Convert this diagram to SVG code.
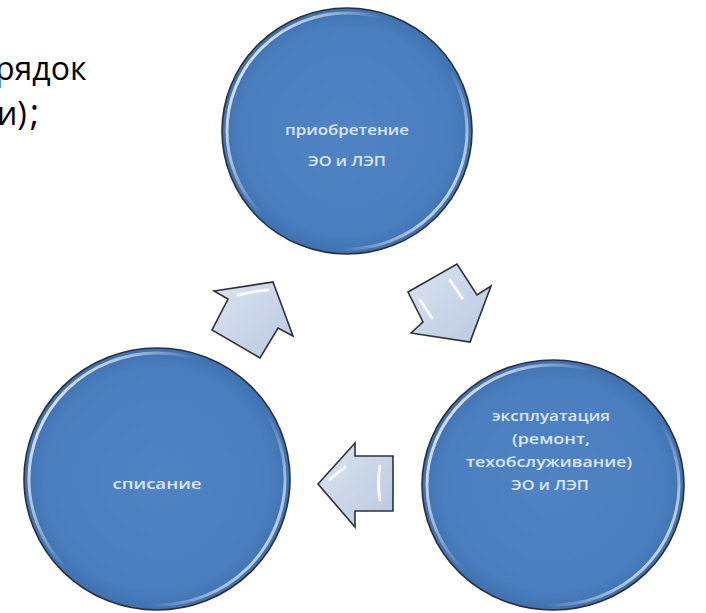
<svg xmlns="http://www.w3.org/2000/svg" width="706" height="613" viewBox="0 0 706 613">
  <defs>
    <radialGradient id="ball" cx="0.5" cy="0.5" r="0.5">
      <stop offset="0" stop-color="#4f83c3"/>
      <stop offset="0.85" stop-color="#4a7ebe"/>
      <stop offset="1" stop-color="#3f71b0"/>
    </radialGradient>
    <linearGradient id="rim" x1="0" y1="0.2" x2="1" y2="0.8">
      <stop offset="0" stop-color="#ffffff" stop-opacity="0.9"/>
      <stop offset="0.22" stop-color="#ffffff" stop-opacity="0.5"/>
      <stop offset="0.4" stop-color="#ffffff" stop-opacity="0"/>
      <stop offset="0.7" stop-color="#ffffff" stop-opacity="0"/>
      <stop offset="0.9" stop-color="#ffffff" stop-opacity="0.6"/>
      <stop offset="1" stop-color="#ffffff" stop-opacity="0.8"/>
    </linearGradient>
    <linearGradient id="arrowFill" x1="0" y1="0" x2="1" y2="1">
      <stop offset="0" stop-color="#dbe3f0"/>
      <stop offset="1" stop-color="#b9c9e1"/>
    </linearGradient>
  </defs>
  <style>
    .ball { fill: url(#ball); stroke: #2b2f36; stroke-width: 1.6; }
    .rim { fill: none; stroke: url(#rim); stroke-width: 3; }
    .lbl { font-family: "Open Sans", "DejaVu Sans", sans-serif; font-size: 13.5px; font-weight: 600; fill: #dce7f5; text-anchor: middle; }
    .arrow { fill: url(#arrowFill); stroke: #2e3036; stroke-width: 1.6; stroke-linejoin: miter; }
    .hl { stroke: #ffffff; stroke-width: 3; stroke-linecap: round; opacity: 0.85; fill: none; }
    .doc { font-family: "Open Sans", "Liberation Sans", sans-serif; font-size: 32px; fill: #000000; }
  </style>
  <rect width="706" height="613" fill="#ffffff"/>
  <text class="doc" x="-5" y="80">рядок</text>
  <text class="doc" x="-3" y="125">и)<tspan dx="3" font-size="36">;</tspan></text>

  <g id="connectors">
    <polygon class="arrow" points="214,291 273,282 293,336 278,328 260,358 212,330 228,299"/>
    <path class="hl" d="M238,295 Q255,291 268,290"/>
    <polygon class="arrow" points="408,292 457,264 477,295 491,286 470,342 411,333 423,322"/>
    <path class="hl" d="M420,300 L432,318"/>
    <path class="hl" d="M450,280 L462,298"/>
    <polygon class="arrow" points="318,484 355,443 355,456 393,456 393,511 355,511 355,527"/>
    <path class="hl" d="M330,479 L345,467"/>
    <path class="hl" d="M380,466 Q377,483 380,500"/>
  </g>

  <g id="node-acquisition">
    <ellipse class="ball" cx="347" cy="131" rx="125" ry="123"/>
    <ellipse class="rim" cx="347" cy="131" rx="120" ry="118"/>
    <text class="lbl" x="347" y="135" textLength="124" lengthAdjust="spacingAndGlyphs">приобретение</text>
    <text class="lbl" x="347" y="166" textLength="78" lengthAdjust="spacingAndGlyphs">ЭО и ЛЭП</text>
  </g>

  <g id="node-operation">
    <ellipse class="ball" cx="553" cy="485" rx="131" ry="125"/>
    <ellipse class="rim" cx="553" cy="485" rx="126" ry="120"/>
    <text class="lbl" x="551" y="421" textLength="118" lengthAdjust="spacingAndGlyphs">эксплуатация</text>
    <text class="lbl" x="551" y="444" textLength="78" lengthAdjust="spacingAndGlyphs">(ремонт,</text>
    <text class="lbl" x="549" y="467" textLength="166" lengthAdjust="spacingAndGlyphs">техобслуживание)</text>
    <text class="lbl" x="550" y="490" textLength="78" lengthAdjust="spacingAndGlyphs">ЭО и ЛЭП</text>
  </g>

  <g id="node-writeoff">
    <ellipse class="ball" cx="157" cy="479" rx="133" ry="131"/>
    <ellipse class="rim" cx="157" cy="479" rx="128" ry="126"/>
    <text class="lbl" x="157" y="489" textLength="89" lengthAdjust="spacingAndGlyphs">списание</text>
  </g>
</svg>
